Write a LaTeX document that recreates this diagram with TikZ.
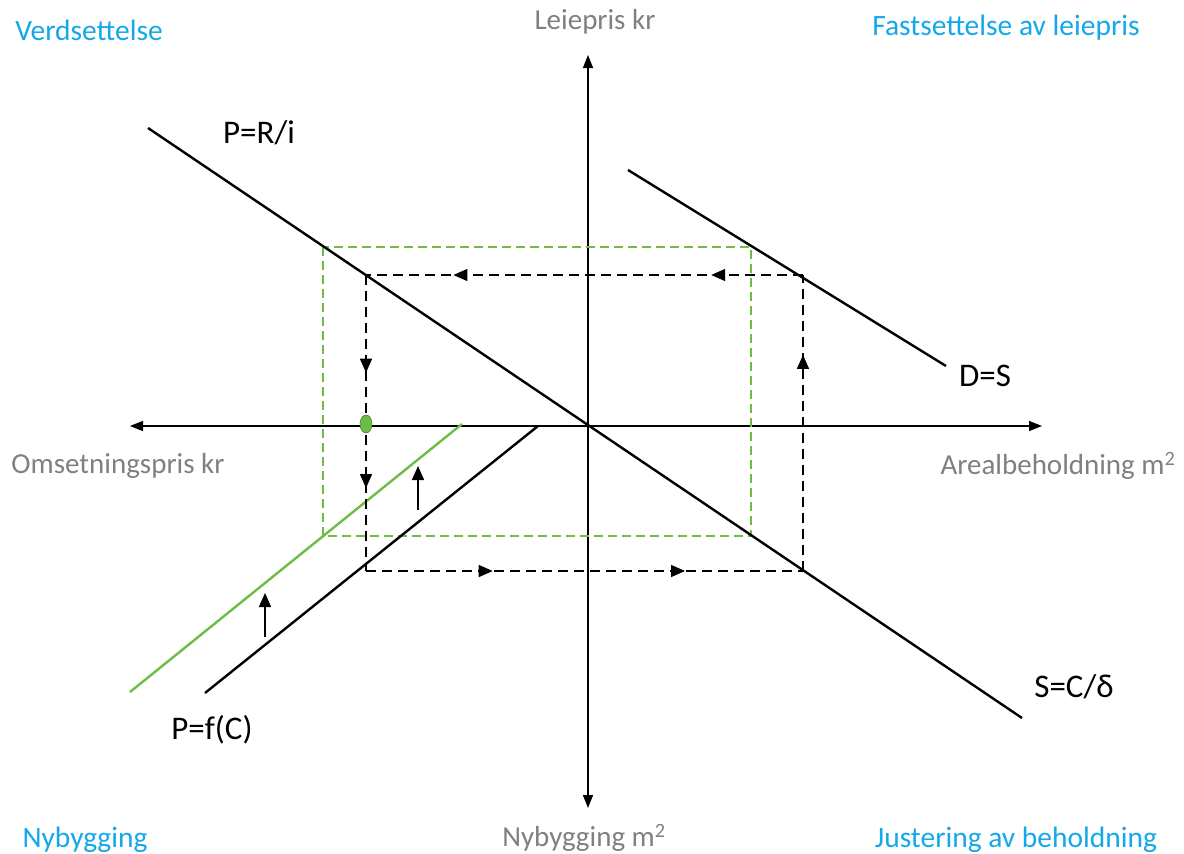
\documentclass[tikz,border=0pt]{standalone}
\usepackage{fontspec}
\setmainfont{Carlito}
\usetikzlibrary{arrows.meta,decorations.markings,shapes.geometric}
\definecolor{qcyan}{HTML}{14A8E8}
\definecolor{qgray}{HTML}{808080}
\definecolor{qgreen}{HTML}{6CBD45}
\tikzset{
  axis/.style={line width=1.5pt,-{Triangle[length=13pt,width=10pt]}},
  curve/.style={line width=2.4pt,black},
  gcurve/.style={line width=2.4pt,qgreen},
  cyc/.style={dash pattern=on 10pt off 6pt,line width=1.4pt},
  gbox/.style={qgreen,dash pattern=on 9pt off 5pt,line width=1.3pt},
  quad/.style={text=qcyan,font=\fontsize{29.5}{34}\selectfont},
  axlab/.style={text=qgray,font=\fontsize{29}{34}\selectfont},
  clab/.style={text=black,font=\fontsize{33}{38}\selectfont},
  mkone/.style={postaction={decorate},decoration={markings,
     mark=at position #1 with {\arrow{Triangle[length=14pt,width=12pt]}}}},
  mktwo/.style 2 args={postaction={decorate},decoration={markings,
     mark=at position #1 with {\arrow{Triangle[length=14pt,width=12pt]}},
     mark=at position #2 with {\arrow{Triangle[length=14pt,width=12pt]}}}},
  shiftarr/.style={line width=1.5pt,-{Triangle[length=14pt,width=12pt]}}
}
\begin{document}
\begin{tikzpicture}[x=1pt,y=-1pt]
\useasboundingbox (0,0) rectangle (1184,854);
% axes
\coordinate (O) at (588,426);
\coordinate (yT) at (588,55);
\coordinate (yB) at (588,808);
\coordinate (xL) at (130,426);
\coordinate (xR) at (1042,426);
\draw[axis] (O) -- (yT);
\draw[axis] (O) -- (yB);
\draw[axis] (O) -- (xL);
\draw[axis] (O) -- (xR);
% green dashed box
\coordinate (g1) at (323,247);
\coordinate (g2) at (751,536);
\draw[gbox] (g1) rectangle (g2);
% curves
\coordinate (pa) at (148,128);
\coordinate (pb) at (1022,718);
\draw[curve] (pa) -- (pb);
\coordinate (da) at (628,170);
\coordinate (db) at (946,366);
\draw[curve] (da) -- (db);
\coordinate (fa) at (205,693);
\coordinate (fb) at (538,426);
\draw[curve] (fa) -- (fb);
\coordinate (ga) at (130,692);
\coordinate (gb) at (462,424);
\draw[gcurve] (ga) -- (gb);
% dashed cycle
\coordinate (c1) at (366,275);
\coordinate (c2) at (803,275);
\coordinate (c3) at (803,571);
\coordinate (c4) at (366,571);
\draw[cyc,mktwo={0.33}{0.72}] (c1) -- (c4);
\draw[cyc,mktwo={0.29}{0.73}] (c4) -- (c3);
\draw[cyc,mkone=0.73] (c3) -- (c2);
\draw[cyc,mktwo={0.21}{0.80}] (c2) -- (c1);
% green dot
\node[ellipse,fill=qgreen,draw=qgreen!70!black,line width=0.6pt,minimum width=12pt,minimum height=18pt,inner sep=0pt] (dot) at (366,424) {};
% shift arrows
\coordinate (s1a) at (418,510);
\coordinate (s1b) at (418,466);
\draw[shiftarr] (s1a) -- (s1b);
\coordinate (s2a) at (265,637);
\coordinate (s2b) at (265,593);
\draw[shiftarr] (s2a) -- (s2b);
% labels
\node[quad] (q1) at (89,30) {Verdsettelse};
\node[quad] (q2) at (1006,28) {Fastsettelse av leiepris};
\node[quad] (q3) at (85,840) {Nybygging};
\node[quad] (q4) at (1016,840) {Justering av beholdning};
\node[axlab] (a1) at (595,22) {Leiepris kr};
\node[axlab] (a2) at (118,466) {Omsetningspris kr};
\node[axlab] (a3) at (1058,466) {Arealbeholdning m\textsuperscript{2}};
\node[axlab] (a4) at (584,838) {Nybygging m\textsuperscript{2}};
\node[clab] (l1) at (259,133) {P=R/i};
\node[clab] (l2) at (985,376) {D=S};
\node[clab] (l3) at (1074,687) {S=C/δ};
\node[clab] (l4) at (212,730) {P=f(C)};
\end{tikzpicture}
\end{document}
